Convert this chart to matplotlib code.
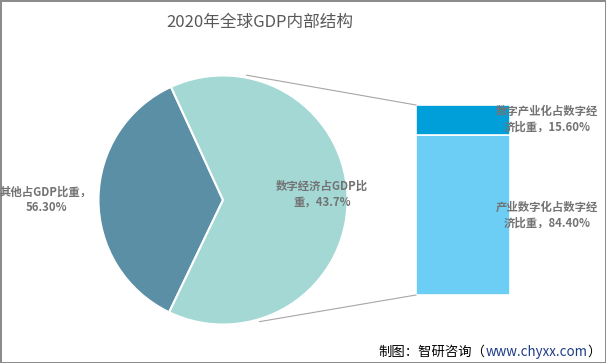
import numpy as np
import matplotlib.pyplot as plt

plt.rcParams['font.family'] = ['Noto Sans CJK SC', 'DejaVu Sans']

# data
pie_labels = ['其他占GDP比重，\n56.30%', '数字经济占GDP比\n重，43.7%']
other_share = 56.30
bar_labels = ['产业数字化占数字经\n济比重，84.40%', '数字产业化占数字经\n济比重，15.60%']
bar_values = [84.40, 15.60]
pie_values = [other_share, sum(bar_values)]

W, H = 606, 363
pie_colors = ['#5b8fa6', '#a3d8d5']
bar_colors = ['#6ccdf5', '#009fd9']
label_color = '#737373'

fig = plt.figure(figsize=(W / 100, H / 100), dpi=100)
fig.patch.set_edgecolor('#8c8c8c')
fig.patch.set_linewidth(2)

# pie geometry in pixels
cx, cy, r = 223, 200, 127
start = 114.7
ax_pie = fig.add_axes([(cx - r) / W, (H - cy - r) / H, 2 * r / W, 2 * r / H])
ax_pie.pie(pie_values, colors=pie_colors, startangle=start, counterclock=True,
           radius=1, wedgeprops=dict(edgecolor='white', linewidth=1.5), frame=True)
ax_pie.set_xlim(-1.02, 1.02)
ax_pie.set_ylim(-1.02, 1.02)
ax_pie.axis('off')

# stacked bar
bx0, by0, bw, bh = 416, 105, 94, 190
ax_bar = fig.add_axes([bx0 / W, (H - by0 - bh) / H, bw / W, bh / H])
bottom = 0
for v, c in zip(bar_values, bar_colors):
    ax_bar.bar(0, v, bottom=bottom, width=1, color=c, edgecolor='white', linewidth=1.2)
    bottom += v
ax_bar.set_xlim(-0.5, 0.5)
ax_bar.set_ylim(0, sum(bar_values))
ax_bar.axis('off')

# overlay in pixel coords for lines and text
ov = fig.add_axes([0, 0, 1, 1], zorder=5)
ov.set_xlim(0, W)
ov.set_ylim(H, 0)
ov.axis('off')

for ang, (ex, ey) in [(79.3, (bx0, by0)), (-73.3, (bx0, by0 + bh))]:
    px = cx + r * np.cos(np.radians(ang))
    py = cy - r * np.sin(np.radians(ang))
    ov.plot([px, ex], [py, ey], color='#a6a6a6', lw=0.8)

ov.text(260, 22, '2020年全球GDP内部结构', ha='center', va='center',
        fontsize=12, color='#595959')

lbl = dict(ha='center', va='center', fontsize=8.2, color=label_color,
           fontweight='bold', linespacing=1.25)
ov.text(46, 200, pie_labels[0], **lbl)
ov.text(322, 194, pie_labels[1], **lbl)
ov.text(547, 119, bar_labels[1], **lbl)
ov.text(547, 215, bar_labels[0], **lbl)

# footer, right aligned at x=601
fig.canvas.draw()
renderer = fig.canvas.get_renderer()
parts = [('制图：智研咨询（', 'black'), ('www.chyxx.com', '#1f3c88'), ('）', 'black')]
texts = [ov.text(0, 352, s, ha='left', va='center', fontsize=9.6, color=c) for s, c in parts]
widths = [t.get_window_extent(renderer).width for t in texts]
x = 601 - sum(widths)
for t, w in zip(texts, widths):
    t.set_x(x)
    x += w

fig.savefig('out.png', dpi=100)
